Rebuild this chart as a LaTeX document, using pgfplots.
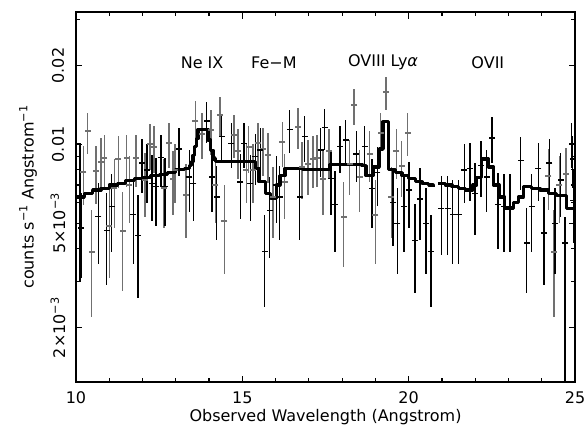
\documentclass[border=0pt]{standalone}
\usepackage{fontspec}
\setmainfont{DejaVu Sans}
\usepackage{pgfplots}
\pgfplotsset{compat=1.18}
\definecolor{dgray}{HTML}{707070}

% gray spectrum: wavelength, flux, 1-sigma error
\pgfplotstableread{
x y e
10.22 0.00785 0.0020
10.35 0.0112 0.0020
10.47 0.0039 0.0017
10.60 0.0079 0.0020
10.75 0.0086 0.0020
10.85 0.0089 0.0020
11.00 0.0049 0.0018
11.15 0.0068 0.0020
11.27 0.0088 0.0020
11.40 0.00466 0.0019
11.52 0.0089 0.0020
11.60 0.0070 0.0020
11.80 0.0089 0.0020
12.08 0.0073 0.0020
12.22 0.0100 0.0020
12.34 0.0098 0.0020
12.64 0.0068 0.0020
12.79 0.0101 0.0020
12.91 0.0074 0.0020
12.98 0.0080 0.0020
13.31 0.0064 0.0020
13.59 0.0123 0.0023
13.79 0.0110 0.0022
14.06 0.0113 0.0022
14.19 0.0070 0.0020
14.33 0.0129 0.0022
14.46 0.0051 0.0019
14.75 0.0109 0.0020
14.87 0.0094 0.0020
15.12 0.0080 0.0020
15.19 0.0098 0.0020
15.32 0.0080 0.0020
15.47 0.0101 0.0020
15.62 0.0096 0.0020
15.77 0.0091 0.0020
15.92 0.0063 0.0019
16.20 0.0102 0.0020
16.27 0.0072 0.0020
16.67 0.0117 0.0021
16.79 0.0082 0.0020
16.97 0.0084 0.0020
17.12 0.0088 0.0020
17.25 0.0089 0.0020
17.42 0.0074 0.0020
17.60 0.0094 0.0020
18.05 0.0053 0.0019
18.23 0.0084 0.0020
18.36 0.0141 0.0022
18.53 0.0075 0.0020
18.83 0.0092 0.0020
19.00 0.0054 0.0019
19.16 0.0111 0.0021
19.32 0.0158 0.0023
19.48 0.0063 0.0019
19.63 0.0094 0.0020
19.79 0.0083 0.0020
19.97 0.0111 0.0021
24.20 0.0076 0.0020
24.37 0.0039 0.0017
24.53 0.0070 0.0020
24.73 0.0077 0.0020
}\graydata

% black spectrum
\pgfplotstableread{
x y e
10.15 0.0048 0.0017
10.67 0.0053 0.0018
10.92 0.0047 0.0018
11.07 0.0058 0.0019
11.72 0.0054 0.0019
11.86 0.0045 0.0019
11.98 0.0085 0.0020
12.14 0.0080 0.0020
12.28 0.0071 0.0020
12.40 0.0069 0.0020
12.55 0.0089 0.0020
12.68 0.0069 0.0020
13.10 0.0096 0.0020
13.41 0.0075 0.0020
13.53 0.0071 0.0020
13.93 0.0123 0.0022
14.09 0.0075 0.0020
14.23 0.0063 0.0020
14.38 0.0107 0.0021
14.67 0.0101 0.0020
14.94 0.0072 0.0020
15.05 0.0101 0.0020
15.24 0.0071 0.0020
15.39 0.0090 0.0020
15.54 0.0095 0.0020
15.67 0.0039 0.0015
15.82 0.0056 0.0019
16.02 0.0070 0.0020
16.12 0.0063 0.0020
16.42 0.0114 0.0021
16.72 0.0063 0.0020
16.87 0.0107 0.0021
17.35 0.0095 0.0020
17.47 0.0116 0.0021
17.66 0.0074 0.0020
17.78 0.0059 0.0020
17.93 0.0098 0.0020
18.11 0.0104 0.0020
18.43 0.0092 0.0020
18.68 0.0098 0.0020
18.90 0.0068 0.0020
19.06 0.0078 0.0020
19.53 0.0060 0.0019
19.66 0.0050 0.0018
19.86 0.0058 0.0019
20.01 0.0067 0.0019
20.19 0.0043 0.0016
20.34 0.0062 0.0019
20.52 0.0050 0.0018
20.67 0.0039 0.0015
20.98 0.0057 0.0019
21.17 0.0057 0.0019
21.32 0.0054 0.0019
21.50 0.0054 0.0019
21.67 0.0080 0.0020
21.84 0.0081 0.0020
21.99 0.0065 0.0020
22.17 0.0083 0.0020
22.34 0.0075 0.0020
22.51 0.0106 0.0021
22.69 0.0059 0.0019
22.86 0.0058 0.0019
23.05 0.0058 0.0019
23.37 0.0087 0.0020
23.55 0.0042 0.0015
23.70 0.0058 0.0019
23.90 0.0081 0.0020
24.07 0.0046 0.0017
24.23 0.0085 0.0020
24.40 0.0050 0.0018
24.57 0.0073 0.0020
24.90 0.0101 0.0020
24.93 0.0088 0.0020
24.95 0.0061 0.0019
}\blackdata

\begin{document}
\begin{tikzpicture}[font=\fontsize{16bp}{19bp}\selectfont]
\begin{axis}[
  at={(0,0)}, anchor=south west,
  scale only axis, width=499bp, height=370bp,
  xmin=10, xmax=25,
  ymode=log, ymin=0.00124, ymax=0.032,
  xtick={10,15,20,25}, xticklabels={10,15,20,25},
  minor x tick num=4,
  ytick={0.002,0.005,0.01,0.02},
  yticklabels={2×10\textsuperscript{−3},5×10\textsuperscript{−3},0.01,0.02},
  minor ytick={0.003,0.004,0.006,0.007,0.008,0.009,0.03},
  tick align=inside, xtick pos=both, ytick pos=both,
  major tick length=6.5bp, minor tick length=4bp,
  every tick/.style={black, line width=1.2bp},
  axis line style={line width=1.5bp},
  xticklabel style={anchor=center, yshift=-15.5bp},
  yticklabel style={anchor=center, xshift=-18bp, rotate=90},
  xlabel={Observed Wavelength (Angstrom)},
  xlabel style={at={(axis description cs:0.5,-0.095)}, anchor=center},
  ylabel={counts s\textsuperscript{−1} Angstrom\textsuperscript{−1}},
  ylabel style={at={(axis description cs:-0.0962,0.5)}, anchor=center},
]
\addplot[only marks, mark=-, mark size=3bp, dgray, mark options={line width=2bp},
  error bars/.cd, y dir=both, y explicit, error mark=none,
  error bar style={line width=1.4bp, dgray}]
  table[x=x, y=y, y error=e] {\graydata};
\addplot[only marks, mark=-, mark size=3bp, black, mark options={line width=1.5bp},
  error bars/.cd, y dir=both, y explicit, error mark=none,
  error bar style={line width=1.4bp, black}]
  table[x=x, y=y, y error=e] {\blackdata};
% bin whose lower error runs off the bottom
\addplot[only marks, mark=-, mark size=3bp, black, mark options={line width=1.5bp},
  error bars/.cd, y dir=both, y explicit, error mark=none,
  error bar style={line width=1.4bp, black}]
  coordinates {(24.70,0.0042) += (0,0.0011) -= (0,0.0041)};
% model
\addplot[const plot, black, line width=3.2bp, line join=round] coordinates {
  (10.00,0.0063) (10.25,0.0065) (10.50,0.0067) (10.75,0.0068) (11.00,0.0070)
  (11.25,0.0071) (11.50,0.0073) (11.75,0.0074) (12.00,0.0075) (12.25,0.0076)
  (12.50,0.0077) (12.75,0.0078) (13.00,0.0080) (13.25,0.0081) (13.40,0.0083)
  (13.47,0.0086) (13.52,0.0091) (13.57,0.0098) (13.62,0.0105) (13.67,0.0114)
  (13.97,0.0104) (14.05,0.0095) (14.12,0.0088) (14.20,0.0086) (15.40,0.0081)
  (15.50,0.0072) (15.70,0.0065) (15.85,0.0062) (16.02,0.0070) (16.13,0.0076)
  (16.28,0.0081) (16.80,0.0080) (17.30,0.0080) (17.62,0.0084) (18.60,0.0083)
  (18.72,0.0076) (18.93,0.0082) (19.12,0.0096) (19.23,0.0122) (19.40,0.0080)
  (19.60,0.0078) (19.80,0.0076) (20.00,0.0074) (20.20,0.0072) (20.40,0.0071)
  (20.60,0.0070) (20.73,0.0069)
};
\addplot[const plot, black, line width=3.2bp, line join=round] coordinates {
  (20.88,0.0071) (21.10,0.0070) (21.30,0.0069) (21.50,0.0068) (21.70,0.0067)
  (21.93,0.0070) (22.05,0.0075) (22.20,0.0088) (22.40,0.0082) (22.55,0.0070)
  (22.72,0.0063) (22.88,0.0057) (23.15,0.0060) (23.30,0.0063) (23.45,0.0069)
  (23.70,0.0068) (23.95,0.0067) (24.20,0.0065) (24.45,0.0064) (24.75,0.0057)
  (25.00,0.0057)
};
\addplot[black, line width=1.2bp] coordinates {
  (10.00,0.0030) (10.12,0.0030) (10.12,0.0101) (10.00,0.0101)
};
\node at (axis cs:13.79,0.0205) {Ne IX};
\node at (axis cs:15.95,0.0205) {Fe−M};
\node at (axis cs:19.23,0.0205) {OVIII Ly{\itshape α}};
\node at (axis cs:22.38,0.0205) {OVII};
\end{axis}
\pgfresetboundingbox
\path[use as bounding box] (-76bp,-49bp) rectangle (512bp,382bp);
\end{tikzpicture}
\end{document}
